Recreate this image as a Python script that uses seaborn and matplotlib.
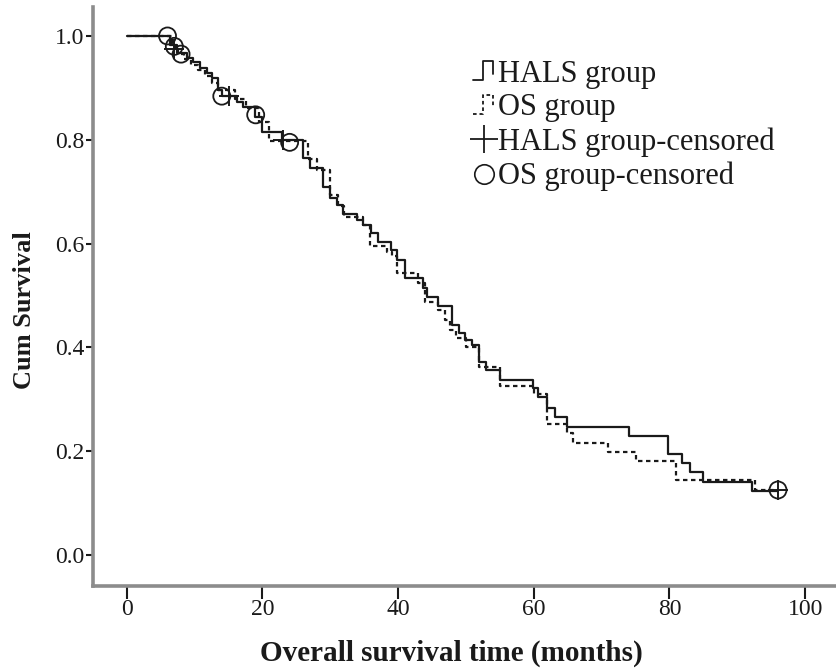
"""Kaplan-Meier style overall survival curves, HALS vs OS group."""
import numpy as np
import pandas as pd
import matplotlib
matplotlib.use("Agg")
import matplotlib.pyplot as plt
import seaborn as sns
from matplotlib.legend_handler import HandlerBase
from matplotlib.lines import Line2D

# step curves (time in months, survival after each event)
hals_time = [0, 6.3, 7.4, 8.8, 9.7, 10.8, 11.8, 12.6, 13.4, 14.0, 16.2, 17.1,
             18.9, 19.9, 22.9, 26.0, 27.0, 28.9, 29.9, 31.0, 31.9, 33.9, 34.8,
             36.0, 37.0, 39.0, 39.8, 41.0, 43.6, 44.2, 45.9, 48.0, 48.9, 49.9,
             50.9, 51.9, 53.0, 55.0, 59.9, 60.6, 61.9, 63.1, 64.9, 74.0, 79.8,
             81.9, 83.0, 85.0, 92.2, 96.0]
hals_surv = [1.0, 0.983, 0.967, 0.958, 0.95, 0.938, 0.929, 0.919, 0.895, 0.884,
             0.873, 0.863, 0.844, 0.815, 0.80, 0.765, 0.746, 0.709, 0.688,
             0.674, 0.657, 0.645, 0.636, 0.62, 0.603, 0.588, 0.568, 0.534,
             0.514, 0.497, 0.48, 0.443, 0.428, 0.414, 0.405, 0.372, 0.356,
             0.337, 0.322, 0.305, 0.283, 0.266, 0.247, 0.229, 0.195, 0.177,
             0.16, 0.141, 0.123, 0.123]

os_time = [0, 6.6, 7.6, 8.5, 9.5, 10.5, 11.5, 12.5, 13.5, 16.0, 17.5, 19.5,
           21.0, 26.7, 28.0, 30.0, 31.2, 32.0, 34.8, 35.8, 38.3, 39.1, 39.9,
           42.9, 43.9, 45.9, 46.9, 47.6, 48.6, 50.0, 51.9, 55.0, 60.0, 62.0,
           64.9, 65.8, 71.0, 75.0, 81.0, 92.6, 96.0]
os_surv = [1.0, 0.98, 0.965, 0.955, 0.945, 0.935, 0.922, 0.91, 0.895, 0.878,
           0.862, 0.835, 0.797, 0.762, 0.742, 0.694, 0.672, 0.651, 0.636,
           0.595, 0.584, 0.575, 0.543, 0.524, 0.487, 0.472, 0.453, 0.433,
           0.418, 0.40, 0.362, 0.326, 0.31, 0.252, 0.235, 0.216, 0.198, 0.181,
           0.144, 0.125, 0.125]

# censored observations
hals_cens_time = [7, 15, 23, 96]
hals_cens_surv = [0.975, 0.884, 0.80, 0.125]
os_cens_time = [6, 7, 8, 14, 19, 24, 96]
os_cens_surv = [1.0, 0.98, 0.965, 0.884, 0.848, 0.795, 0.125]

x_ticks = [0, 20, 40, 60, 80, 100]
y_ticks = [0.0, 0.2, 0.4, 0.6, 0.8, 1.0]
legend_labels = ["HALS group", "OS group", "HALS group-censored", "OS group-censored"]

INK = "#1a1a1a"
SPINE = "#8c8c8c"

curves = pd.concat([
    pd.DataFrame({"time": hals_time, "surv": hals_surv, "group": "HALS"}),
    pd.DataFrame({"time": os_time, "surv": os_surv, "group": "OS"}),
], ignore_index=True)

sns.set_style("white")
plt.rcParams["font.family"] = ["Liberation Serif", "DejaVu Serif"]

fig = plt.figure(figsize=(8.37, 6.71), dpi=100)
ax = fig.add_axes([0.111, 0.1267, 0.889, 0.863])

sns.lineplot(data=curves, x="time", y="surv", hue="group", style="group",
             palette={"HALS": INK, "OS": INK},
             dashes={"HALS": "", "OS": (2.0, 1.6)},
             drawstyle="steps-post", estimator=None, linewidth=1.6,
             legend=False, ax=ax)

sns.scatterplot(x=os_cens_time, y=os_cens_surv, marker="o", s=150,
                facecolors="none", edgecolor=INK, linewidth=1.3, ax=ax, zorder=4)
sns.scatterplot(x=hals_cens_time, y=hals_cens_surv, marker="+", s=190,
                color=INK, linewidth=1.4, ax=ax, zorder=5)

ax.set_xlim(-5.0, 104.7)
ax.set_ylim(-0.06, 1.056)
ax.set_xticks(x_ticks)
ax.set_yticks(y_ticks)
ax.set_xticklabels([str(v) for v in x_ticks])
ax.set_yticklabels([f"{v:.1f}" for v in y_ticks])
ax.tick_params(axis="x", direction="out", length=9, width=1.5, color=INK,
               labelsize=17, pad=0.5, bottom=True)
ax.tick_params(axis="y", direction="out", length=5, width=1.5, color=INK,
               labelsize=17, pad=1, left=True)
for tl in ax.get_xticklabels() + ax.get_yticklabels():
    tl.set_color(INK)

ax.set_xlabel("Overall survival time (months)", fontsize=21, fontweight="bold",
              color=INK)
ax.xaxis.set_label_coords(0.482, -0.092)
ax.set_ylabel("Cum Survival", fontsize=19, fontweight="bold", color=INK)
ax.yaxis.set_label_coords(-0.077, 0.476)

for side in ["top", "right"]:
    ax.spines[side].set_visible(False)
for side in ["left", "bottom"]:
    ax.spines[side].set_color(SPINE)
    ax.spines[side].set_linewidth(2.6)


class StepHandler(HandlerBase):
    """Legend key drawn as a small survival step."""

    def __init__(self, dashes=None):
        super().__init__()
        self.dashes = dashes

    def create_artists(self, legend, orig_handle, xdescent, ydescent,
                       width, height, fontsize, trans):
        x0, w, h = -xdescent, width, height
        xs = [x0, x0 + 0.45 * w, x0 + 0.45 * w, x0 + 0.95 * w, x0 + 0.95 * w]
        ys = [0.05 * h, 0.05 * h, 0.95 * h, 0.95 * h, 0.35 * h]
        line = Line2D(xs, ys, color=INK, linewidth=1.3, transform=trans)
        if self.dashes:
            line.set_dashes(self.dashes)
        return [line]


h_hals = Line2D([], [], color=INK)
h_os = Line2D([], [], color=INK, linestyle="--")
h_plus = Line2D([], [], color=INK, marker="+", markersize=20, linestyle="none",
                markeredgewidth=1.3)
h_circ = Line2D([], [], color=INK, marker="o", markersize=14, linestyle="none",
                markerfacecolor="none", markeredgewidth=1.2)

leg = ax.legend([h_hals, h_os, h_plus, h_circ], legend_labels,
                handler_map={h_hals: StepHandler(), h_os: StepHandler((2.0, 1.6))},
                loc="upper left", bbox_to_anchor=(0.547, 0.934),
                bbox_transform=fig.transFigure, frameon=False, fontsize=22,
                handlelength=0.7, handletextpad=0.1, labelspacing=0.16,
                borderpad=0.0, markerscale=1.0)
for txt in leg.get_texts():
    txt.set_color(INK)

fig.savefig("out.png", dpi=100)
plt.close(fig)
